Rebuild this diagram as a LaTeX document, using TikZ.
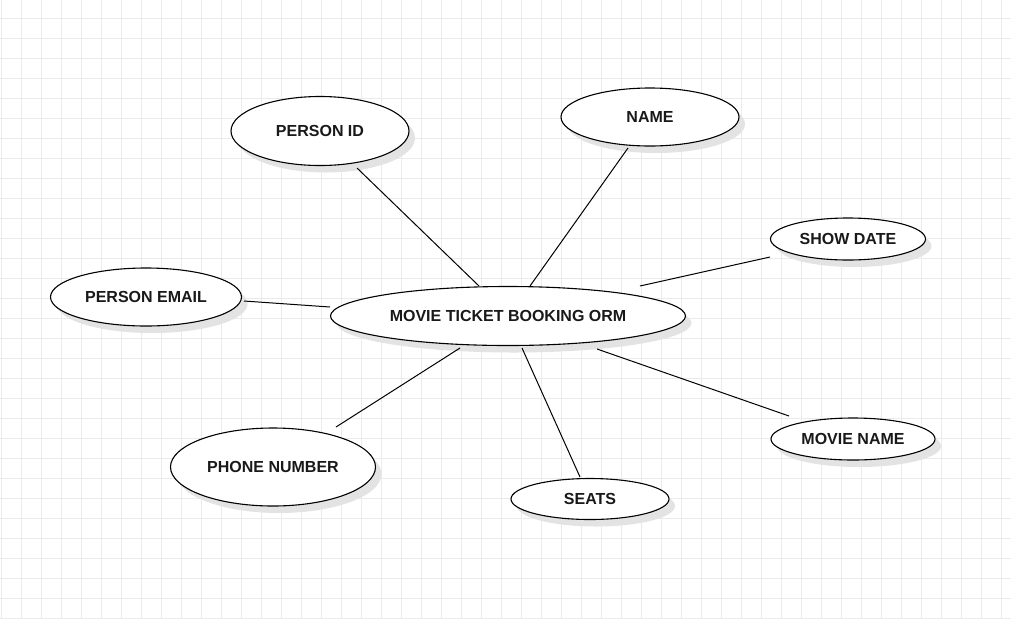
\documentclass[tikz,border=0pt]{standalone}
\usepackage{fontspec}
\setmainfont{Liberation Sans}
\begin{document}
\begin{tikzpicture}[x=1pt,y=-1pt,
  attr/.style={ellipse, draw=black, line width=1.1pt, fill=white, inner sep=0pt,
    font=\fontsize{16}{19}\bfseries\selectfont, text=black!90},
  shad/.style={fill=black!11},
  conn/.style={draw=black, line width=1pt}]
\usetikzlibrary{shapes.geometric}
\useasboundingbox (0,0) rectangle (1011,619);
\fill[white] (0,0) rectangle (1011,619);
% grid
\foreach \x in {1,21,...,1001} \draw[black!8, line width=1pt] (\x,0) -- (\x,619);
\foreach \y in {18,38,...,618} \draw[black!8, line width=1pt] (0,\y) -- (1011,\y);
% shadows
\foreach \cx/\cy/\rx/\ry in {320/131/89/34.5, 650/117/89/29, 848/239/77.5/21, 146/297/95.5/29,
  508/316/177.5/29.5, 273/467/102.5/39, 590/499/79/20.5, 853/439/82/21}
  \fill[shad] (\cx+6,\cy+7) ellipse [x radius=\rx, y radius=\ry];
% connector ends
\coordinate (e1a) at (357,168); \coordinate (e1b) at (479,286);
\coordinate (e2a) at (628,148); \coordinate (e2b) at (530,286);
\coordinate (e3a) at (770,257); \coordinate (e3b) at (640,286);
\coordinate (e4a) at (244,301); \coordinate (e4b) at (330,307);
\coordinate (e5a) at (336,427); \coordinate (e5b) at (460,348);
\coordinate (e6a) at (580,477); \coordinate (e6b) at (522,348);
\coordinate (e7a) at (789,416); \coordinate (e7b) at (597,349);
\draw[conn] (e1a) -- (e1b);
\draw[conn] (e2a) -- (e2b);
\draw[conn] (e3a) -- (e3b);
\draw[conn] (e4a) -- (e4b);
\draw[conn] (e5a) -- (e5b);
\draw[conn] (e6a) -- (e6b);
\draw[conn] (e7a) -- (e7b);
% nodes
\node[attr, minimum width=178pt, minimum height=69pt] (pid) at (320,131) {PERSON ID};
\node[attr, minimum width=178pt, minimum height=58pt] (name) at (650,117) {NAME};
\node[attr, minimum width=155pt, minimum height=42pt] (sdate) at (848,239) {SHOW DATE};
\node[attr, minimum width=191pt, minimum height=58pt] (pemail) at (146,297) {PERSON EMAIL};
\node[attr, minimum width=355pt, minimum height=59pt] (orm) at (508,316) {MOVIE TICKET BOOKING ORM};
\node[attr, minimum width=205pt, minimum height=78pt] (phone) at (273,467) {PHONE NUMBER};
\node[attr, minimum width=158pt, minimum height=41pt] (seats) at (590,499) {SEATS};
\node[attr, minimum width=164pt, minimum height=42pt] (mname) at (853,439) {MOVIE NAME};
\end{tikzpicture}
\end{document}
